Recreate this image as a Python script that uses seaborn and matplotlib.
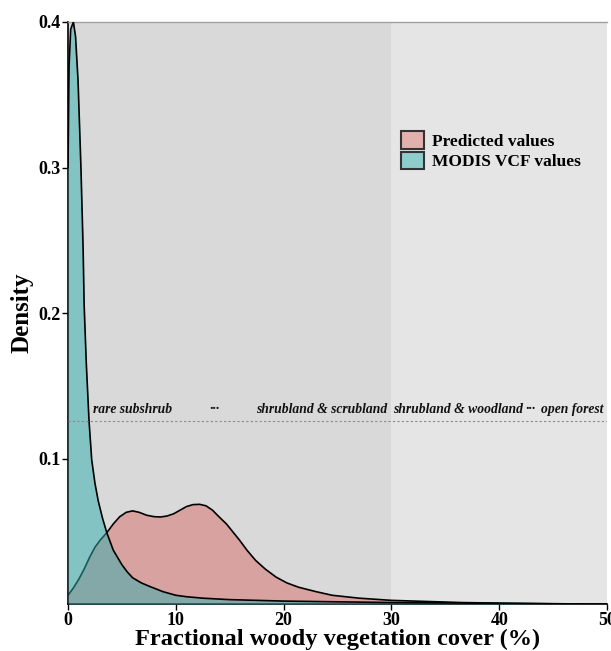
import numpy as np
import matplotlib
matplotlib.use('Agg')
import matplotlib.pyplot as plt
import seaborn as sns
from matplotlib.patches import Patch

# density curves
modis_x = [0, 0.1, 0.25, 0.5, 0.7, 0.93, 1.2, 1.4, 1.5, 1.7, 1.95, 2.2, 2.5, 2.8,
           3.2, 3.6, 4.2, 5.0, 5.5, 6.0, 6.8, 7.6, 8.8, 10, 11, 12.5, 15, 20, 25,
           30, 35, 40, 45, 50]
modis_y = [0.30, 0.37, 0.395, 0.40, 0.39, 0.36, 0.30, 0.245, 0.205, 0.165, 0.126,
           0.099, 0.083, 0.071, 0.059, 0.049, 0.037, 0.027, 0.022, 0.018, 0.0145,
           0.012, 0.0085, 0.006, 0.005, 0.004, 0.003, 0.002, 0.0015, 0.001,
           0.0008, 0.0004, 0.0001, 0.0]

pred_x = [0, 0.5, 1, 1.5, 2, 2.5, 3, 3.6, 4.2, 4.8, 5.4, 6.0, 6.6, 7.3, 8.0, 8.6,
          9.2, 9.8, 10.4, 11.0, 11.6, 12.2, 12.8, 13.4, 14.0, 14.7, 15.3, 15.9,
          16.6, 17.4, 18.3, 19.3, 20.3, 21.4, 23, 24.5, 27, 30, 33, 36.5, 40, 44,
          47.6]
pred_y = [0.006, 0.011, 0.017, 0.024, 0.032, 0.039, 0.044, 0.049, 0.055, 0.060,
          0.063, 0.064, 0.063, 0.061, 0.060, 0.0598, 0.0605, 0.062, 0.0645, 0.067,
          0.0683, 0.0685, 0.0675, 0.0645, 0.060, 0.055, 0.0495, 0.044, 0.037,
          0.030, 0.024, 0.0185, 0.0145, 0.0115, 0.0085, 0.006, 0.004, 0.0025,
          0.0018, 0.001, 0.0006, 0.0003, 0.0]

series_labels = ['Predicted values', 'MODIS VCF values']
class_labels = ['rare subshrub', '···', 'shrubland & scrubland',
                'shrubland & woodland', '···', 'open forest']
class_pos = [2.3, 13.6, 29.6, 30.2, 42.9, 49.7]
class_ha = ['left', 'center', 'right', 'left', 'center', 'right']
class_line = 0.126

sns.set_style('white')
plt.rcParams['font.family'] = ['Liberation Serif', 'DejaVu Serif']
plt.rcParams['font.weight'] = 'bold'
plt.rcParams['text.color'] = 'black'
plt.rcParams['axes.labelcolor'] = 'black'

pred_col = (215/255, 109/255, 103/255)
modis_col = (49/255, 175/255, 175/255)

fig = plt.figure(figsize=(6.11, 6.51), dpi=100)
ax = fig.add_axes([68/611, 47/651, 539/611, 582/651])

# background bands
ax.axvspan(0, 30, color='#d9d9d9', lw=0, zorder=0)
ax.axvspan(30, 50, color='#e5e5e5', lw=0, zorder=0)

ax.fill_between(pred_x, pred_y, color=pred_col, alpha=0.5, lw=0, zorder=1)
sns.lineplot(x=pred_x, y=pred_y, color='black', lw=1.2, ax=ax, zorder=2,
             sort=False)
ax.fill_between(modis_x, modis_y, color=modis_col, alpha=0.5, lw=0, zorder=3)
sns.lineplot(x=modis_x, y=modis_y, color='black', lw=1.2, ax=ax, zorder=4,
             sort=False)

ax.axhline(class_line, color='#8a8a8a', ls=(0, (2, 2)), lw=0.8, zorder=5)
for lab, xp, ha in zip(class_labels, class_pos, class_ha):
    ax.text(xp, class_line + 0.003, lab, ha=ha, va='bottom', fontsize=9.8,
            style='italic', weight='bold', color='#111111', zorder=6)

ax.set_xlim(0, 50)
ax.set_ylim(0, 0.4)
ax.set_xticks([0, 10, 20, 30, 40, 50])
ax.set_yticks([0.1, 0.2, 0.3, 0.4])
ax.set_xticklabels(['0', '10', '20', '30', '40', '50'])
ax.set_yticklabels(['0.1', '0.2', '0.3', '0.4'])
ax.tick_params(axis='both', length=4, width=1, direction='out', labelsize=13,
               colors='black', bottom=True, left=True, pad=1.5)
for t in ax.get_xticklabels() + ax.get_yticklabels():
    t.set_fontweight('bold')

ax.set_xlabel('Fractional woody vegetation cover (%)', fontsize=17.6,
              fontweight='bold', labelpad=0)
ax.set_ylabel('Density', fontsize=18, fontweight='bold', labelpad=3)

for s in ['left', 'bottom']:
    ax.spines[s].set_color('black')
    ax.spines[s].set_linewidth(1.2)
ax.spines['right'].set_visible(False)
ax.spines['top'].set_color('#a0a0a0')
ax.spines['top'].set_linewidth(1.0)

handles = [Patch(facecolor='#e2b0ad', edgecolor='#333333', lw=1.5),
           Patch(facecolor='#8fcccc', edgecolor='#333333', lw=1.5)]
ax.legend(handles, series_labels, loc='upper left',
          bbox_to_anchor=(0.605, 0.825), frameon=False,
          prop={'weight': 'bold', 'size': 12.5}, handlelength=1.35,
          handleheight=1.2, handletextpad=0.45, labelspacing=0.12,
          borderaxespad=0)

fig.savefig('out.png', dpi=100, facecolor='white')
